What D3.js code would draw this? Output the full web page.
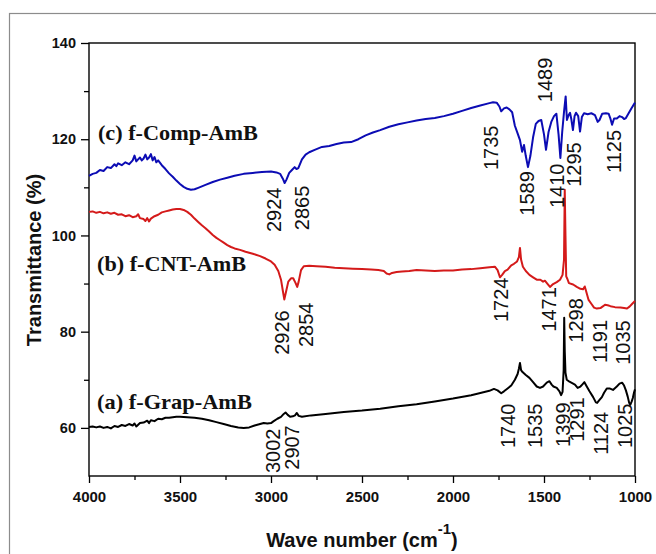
<!DOCTYPE html>
<html><head><meta charset="utf-8">
<script src="https://cdn.jsdelivr.net/npm/d3@7"></script>
<style>body{margin:0;background:#fff}svg{display:block}</style>
</head><body>
<svg id="c" width="656" height="554"></svg>
<script>
// ---------- data ----------
const xTicks = [4000, 3500, 3000, 2500, 2000, 1500, 1000];
const xMinorTicks = [3750, 3250, 2750, 2250, 1750, 1250];
const yTicks = [60, 80, 100, 120, 140];
const yMinorTicks = [70, 90, 110, 130];

const seriesNames = ["(c) f-Comp-AmB", "(b) f-CNT-AmB", "(a) f-Grap-AmB"];
const seriesLabelAnchors = [[3951, 119.8], [3956, 92.6], [3956, 64.0]];

const compAmB = [
[4000,112.4],[3980,112.8],[3960,113.0],[3940,113.6],[3920,113.4],[3900,114.2],[3880,114.0],[3860,114.8],
[3850,114.4],[3840,115.0],[3820,114.6],[3800,115.2],[3780,114.8],[3760,115.6],[3750,116.6],[3740,115.4],
[3730,115.8],[3720,116.2],[3710,115.6],[3700,116.0],[3690,116.8],[3680,115.8],[3670,116.2],[3660,116.9],
[3650,115.6],[3640,116.3],[3630,115.2],[3620,115.6],[3600,114.6],[3580,113.8],[3560,112.9],[3540,112.2],
[3520,111.4],[3500,110.7],[3480,110.1],[3460,109.7],[3440,109.5],[3420,109.6],[3400,109.9],[3360,110.5],
[3320,111.1],[3280,111.6],[3240,112.0],[3200,112.4],[3150,112.8],[3100,113.0],[3050,113.2],[3000,113.3],
[2970,113.1],[2950,112.8],[2935,111.8],[2925,110.9],[2915,111.6],[2900,113.0],[2885,113.6],[2870,114.2],
[2860,113.8],[2850,114.0],[2830,115.8],[2810,116.8],[2790,117.3],[2760,117.8],[2720,118.4],[2680,118.6],
[2640,119.0],[2600,119.3],[2560,119.4],[2520,120.0],[2480,120.8],[2440,121.4],[2400,121.9],[2350,122.6],
[2300,123.1],[2250,123.5],[2200,123.9],[2150,124.2],[2100,124.4],[2050,124.8],[2000,125.3],[1950,125.9],
[1900,126.5],[1850,127.0],[1800,127.5],[1780,127.7],[1760,127.6],[1745,126.8],[1735,125.8],[1720,126.4],
[1705,126.6],[1690,126.2],[1675,125.6],[1660,122.8],[1645,121.2],[1632,119.8],[1620,117.4],[1610,118.8],
[1600,116.5],[1588,114.2],[1575,116.5],[1560,120.4],[1545,123.2],[1530,123.8],[1515,124.0],[1500,121.0],
[1489,117.8],[1475,121.5],[1460,123.6],[1445,124.8],[1432,125.3],[1420,121.0],[1410,116.1],[1400,121.5],
[1390,125.7],[1381,128.9],[1374,124.0],[1365,125.0],[1357,125.5],[1350,124.2],[1341,121.9],[1332,124.8],
[1324,125.5],[1312,124.8],[1302,121.6],[1292,124.6],[1280,125.4],[1260,125.2],[1240,125.4],[1220,125.0],
[1205,123.6],[1195,124.0],[1180,125.3],[1160,125.4],[1145,125.3],[1136,124.4],[1126,123.0],[1115,124.3],
[1100,124.3],[1085,124.8],[1071,124.6],[1060,124.2],[1050,124.4],[1035,125.4],[1020,126.4],[1010,127.0],
[1000,127.6]];

const cntAmB = [
[4000,104.9],[3980,105.0],[3960,104.7],[3940,104.9],[3920,104.6],[3900,104.8],[3880,104.5],[3860,104.7],
[3840,104.3],[3820,104.4],[3800,104.0],[3780,104.2],[3760,103.8],[3740,104.0],[3730,104.4],[3720,103.6],
[3700,103.4],[3690,103.0],[3680,103.6],[3670,102.9],[3660,103.5],[3640,104.0],[3620,104.3],[3600,104.8],
[3580,105.0],[3560,105.2],[3540,105.4],[3520,105.5],[3500,105.5],[3480,105.3],[3460,104.9],[3440,104.3],
[3420,103.5],[3400,102.8],[3380,102.1],[3360,101.5],[3340,100.8],[3320,100.1],[3300,99.5],[3280,99.0],
[3260,98.5],[3240,98.0],[3220,97.6],[3200,97.3],[3170,97.0],[3140,96.6],[3100,96.2],[3060,95.7],
[3030,95.2],[3000,94.6],[2980,93.9],[2960,92.6],[2945,90.8],[2935,88.5],[2927,86.7],[2918,88.2],
[2905,90.4],[2890,91.1],[2878,91.1],[2866,90.2],[2856,89.3],[2848,90.4],[2835,92.8],[2820,93.6],
[2790,93.7],[2750,93.6],[2700,93.5],[2650,93.3],[2600,93.2],[2550,93.1],[2500,93.0],[2450,92.9],
[2410,92.8],[2380,92.6],[2365,92.1],[2350,91.9],[2335,92.2],[2310,92.4],[2280,92.5],[2240,92.6],
[2200,92.8],[2150,92.7],[2100,92.6],[2050,92.7],[2000,92.7],[1950,92.9],[1900,93.0],[1850,93.2],
[1800,93.4],[1770,93.5],[1755,92.8],[1742,91.3],[1730,91.8],[1715,92.6],[1700,92.9],[1680,93.8],
[1665,94.1],[1648,94.6],[1638,95.5],[1632,97.4],[1626,95.0],[1616,93.5],[1600,92.6],[1580,91.8],
[1560,91.3],[1540,90.8],[1520,90.8],[1505,90.4],[1495,90.6],[1482,90.0],[1467,89.3],[1450,89.9],
[1430,90.3],[1412,90.8],[1398,91.8],[1390,95.0],[1386,109.5],[1382,100.0],[1378,91.5],[1372,91.0],
[1363,90.1],[1340,89.8],[1320,89.3],[1300,88.9],[1285,88.8],[1276,89.4],[1270,88.6],[1255,86.6],
[1240,85.8],[1225,85.0],[1210,84.8],[1190,84.9],[1175,85.3],[1165,85.6],[1150,85.5],[1135,85.3],
[1110,85.1],[1080,85.0],[1060,84.9],[1044,84.8],[1030,85.2],[1015,85.8],[1000,86.4]];

const grapAmB = [
[4000,60.2],[3980,60.3],[3960,60.1],[3940,60.3],[3920,60.0],[3900,60.2],[3880,59.9],[3860,60.4],
[3840,60.2],[3820,60.6],[3800,60.4],[3780,60.8],[3760,60.5],[3750,60.9],[3740,60.3],[3720,61.0],
[3700,61.1],[3680,61.5],[3670,61.0],[3660,61.6],[3640,61.4],[3620,61.9],[3600,61.8],[3580,62.1],
[3560,62.1],[3540,62.2],[3520,62.3],[3500,62.3],[3460,62.2],[3420,62.1],[3380,61.9],[3340,61.6],
[3300,61.2],[3260,60.8],[3220,60.4],[3180,60.1],[3150,60.0],[3120,60.1],[3090,60.5],[3060,60.8],
[3040,61.0],[3020,60.9],[3000,61.0],[2985,61.4],[2965,61.9],[2945,62.3],[2930,62.9],[2920,63.2],
[2908,62.7],[2895,62.3],[2880,62.4],[2868,62.6],[2858,63.1],[2848,62.5],[2830,62.3],[2780,62.6],
[2700,62.9],[2600,63.3],[2500,63.6],[2400,64.0],[2300,64.5],[2200,64.9],[2100,65.5],[2000,66.1],
[1900,66.8],[1800,67.7],[1775,68.1],[1755,67.8],[1735,67.2],[1720,67.6],[1700,68.2],[1680,68.8],
[1660,70.0],[1645,71.2],[1638,72.3],[1632,73.5],[1626,72.0],[1618,71.6],[1600,71.0],[1580,70.4],
[1560,69.5],[1540,68.6],[1522,68.3],[1505,68.6],[1485,69.4],[1470,69.7],[1458,69.0],[1448,68.6],
[1430,68.3],[1415,67.6],[1406,66.8],[1398,67.5],[1392,72.0],[1389,82.9],[1386,76.0],[1382,71.5],
[1375,70.0],[1360,69.6],[1345,69.3],[1330,69.0],[1315,68.3],[1300,68.6],[1290,69.0],[1278,69.5],
[1265,68.6],[1250,67.6],[1230,66.4],[1215,65.3],[1208,65.2],[1195,65.8],[1182,66.4],[1170,67.3],
[1155,68.2],[1140,68.2],[1121,67.9],[1100,68.6],[1085,69.2],[1071,69.4],[1060,68.8],[1050,67.8],
[1040,66.5],[1032,65.2],[1026,64.8],[1018,65.5],[1012,66.2],[1005,67.4],[1000,68.0]];

// peak annotations: [text, wavenumber at label, transmittance at label start]
const peaksComp = [["2924",2984,100.7],["2865",2830,101.1],["1735",1791,113.6],["1589",1593,104.1],
  ["1489",1495,127.7],["1410",1429,105.7],["1295",1335,110.1],["1125",1115,113.0]];
const peaksCnt = [["2926",2940,75.2],["2854",2808,76.8],["1724",1736,82.0],["1471",1473,80.0],
  ["1298",1324,77.7],["1191",1192,73.5],["1035",1066,73.1]];
const peaksGrap = [["3002",2989,50.6],["2907",2885,51.3],["1740",1698,55.8],["1535",1549,55.8],
  ["1399",1396,56.05],["1291",1319,57.1],["1124",1187,54.4],["1025",1055,55.8]];

// ---------- chart ----------
const m = {left: 89, right: 635, top: 43, bottom: 476};
const svg = d3.select("#c");

svg.append("rect").attr("x", 9.5).attr("y", 13.5).attr("width", 700).attr("height", 600)
  .attr("fill", "none").attr("stroke", "#8c8c8c").attr("stroke-width", 1.2);

const x = d3.scaleLinear().domain([4000, 1000]).range([m.left, m.right]);
const y = d3.scaleLinear().domain([50, 140]).range([m.bottom, m.top]);

const font = "'Liberation Sans', Arial, sans-serif";
const serif = "'Liberation Serif', 'Times New Roman', serif";

const xAxis = svg.append("g").attr("transform", `translate(0,${m.bottom})`)
  .call(d3.axisBottom(x).tickValues(xTicks).tickSize(7).tickSizeOuter(0).tickPadding(8).tickFormat(d3.format("d")));
svg.append("g").attr("transform", `translate(0,${m.bottom})`)
  .call(d3.axisBottom(x).tickValues(xMinorTicks).tickSize(4).tickSizeOuter(0).tickFormat(""));
const yAxis = svg.append("g").attr("transform", `translate(${m.left},0)`)
  .call(d3.axisLeft(y).tickValues(yTicks).tickSize(8).tickSizeOuter(0).tickPadding(5));
svg.append("g").attr("transform", `translate(${m.left},0)`)
  .call(d3.axisLeft(y).tickValues(yMinorTicks).tickSize(5).tickSizeOuter(0).tickFormat(""));

svg.selectAll(".domain").remove();
svg.selectAll(".tick line").attr("stroke", "#000").attr("stroke-width", 1.3);
xAxis.selectAll("text").attr("font-family", font).attr("font-weight", "bold").attr("font-size", "15px").attr("fill", "#111");
yAxis.selectAll("text").attr("font-family", font).attr("font-weight", "bold").attr("font-size", "14.5px").attr("fill", "#111");

svg.append("rect").attr("x", m.left).attr("y", m.top)
  .attr("width", m.right - m.left).attr("height", m.bottom - m.top)
  .attr("fill", "none").attr("stroke", "#000").attr("stroke-width", 1.4);

const line = d3.line().x(d => x(d[0])).y(d => y(d[1]));
const series = [
  {data: compAmB, color: "#0c0cb4", peaks: peaksComp},
  {data: cntAmB, color: "#d41a1a", peaks: peaksCnt},
  {data: grapAmB, color: "#000000", peaks: peaksGrap}
];
series.forEach(s => {
  svg.append("path").datum(s.data).attr("d", line)
    .attr("fill", "none").attr("stroke", s.color).attr("stroke-width", 2)
    .attr("stroke-linejoin", "round");
});

const labelWidths = [160, 149, 155];
seriesNames.forEach((n, i) => {
  svg.append("text").attr("x", x(seriesLabelAnchors[i][0])).attr("y", y(seriesLabelAnchors[i][1]))
    .attr("font-family", serif).attr("font-weight", "bold").attr("font-size", "21px")
    .attr("textLength", labelWidths[i]).attr("lengthAdjust", "spacingAndGlyphs")
    .attr("fill", "#111").text(n);
});

series.forEach(s => {
  s.peaks.forEach(p => {
    svg.append("text")
      .attr("transform", `translate(${x(p[1])},${y(p[2])}) rotate(-90)`)
      .attr("dy", "0.36em")
      .attr("font-family", font).attr("font-size", "20px").attr("fill", "#111")
      .text(p[0]);
  });
});

svg.append("text")
  .attr("transform", `translate(41,${(m.top + m.bottom) / 2 + 0.5}) rotate(-90)`)
  .attr("text-anchor", "middle").attr("font-family", font).attr("font-weight", "bold")
  .attr("font-size", "20px").attr("fill", "#111").text("Transmittance (%)");

const xt = svg.append("text").attr("x", (m.left + m.right) / 2).attr("y", 547)
  .attr("text-anchor", "middle").attr("font-family", font).attr("font-weight", "bold")
  .attr("font-size", "20px").attr("fill", "#111");
xt.append("tspan").text("Wave number (cm");
xt.append("tspan").attr("dy", -13).attr("font-size", "15px").text("-1");
xt.append("tspan").attr("dy", 13).text(")");
</script>
</body></html>
